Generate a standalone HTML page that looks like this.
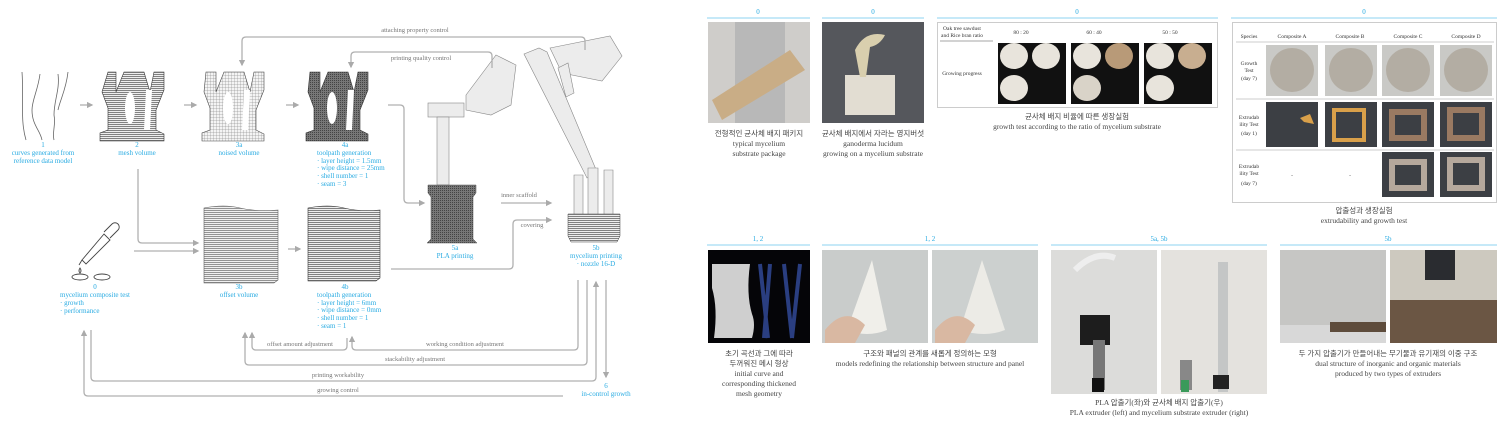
<!DOCTYPE html>
<html><head><meta charset="utf-8"><style>
html,body{margin:0;padding:0;background:#fff;width:1500px;height:426px;overflow:hidden}
svg{display:block}
.b{fill:#29abe2;font-family:"Liberation Serif","Noto Sans CJK KR",serif;font-size:7px}
.g{fill:#777;font-family:"Liberation Serif",serif;font-size:6.5px}
.c{fill:#444;font-family:"Liberation Serif","Noto Sans CJK KR",serif;font-size:7.5px}
.t{fill:#333;font-family:"Liberation Serif",serif;font-size:5.5px}
.ln{stroke:#b0b0b0;stroke-width:1.3;fill:none}
.bl{stroke:#b3e2f5;stroke-width:1.5}
</style></head><body>
<svg width="1500" height="426" viewBox="0 0 1500 426" xmlns="http://www.w3.org/2000/svg">
<defs>
<marker id="a" viewBox="0 0 10 10" refX="8" refY="5" markerWidth="5" markerHeight="5" orient="auto"><path d="M0,0L10,5L0,10z" fill="#aaa"/></marker>
<pattern id="hl" width="3" height="2" patternUnits="userSpaceOnUse"><rect width="3" height="2" fill="#eee"/><rect width="3" height="0.8" fill="#666"/></pattern>
<pattern id="gr" width="3" height="3" patternUnits="userSpaceOnUse"><rect width="3" height="3" fill="#f4f4f4"/><path d="M0,0H3M0,0V3" stroke="#777" stroke-width="0.5"/></pattern>
<pattern id="dk" width="2" height="2" patternUnits="userSpaceOnUse"><rect width="2" height="2" fill="#777"/><rect width="1" height="1" fill="#444"/></pattern>
</defs>

<!-- ===== left diagram ===== -->
<path d="M22,72 C24,100 20,120 26,140 M40,74 C38,90 32,100 32,110 C32,125 40,130 42,140 M58,74 C60,90 54,100 54,115 C56,125 52,132 54,140 M68,72 C66,90 60,100 58,110" stroke="#666" stroke-width="0.8" fill="none"/>
<path d="M108,72 h8 v20 l8,-20 h20 l6,20 l4,-20 h10 v18 l-8,20 v20 l8,4 v7 h-64 v-8 l8,-3 v-22 l-6,-16z" fill="url(#hl)" stroke="#333" stroke-width="0.6"/>
<ellipse cx="130" cy="108" rx="5" ry="16" fill="#fff"/><path d="M146,90 l6,0 l-2,40 l-6,0z" fill="#fff"/>
<path d="M206,72 h10 v20 l8,-20 h20 l6,20 l4,-20 h10 v18 l-8,20 v20 l8,4 v7 h-62 v-8 l8,-3 v-22 l-6,-16z" fill="url(#gr)" stroke="#444" stroke-width="0.6"/>
<ellipse cx="228" cy="108" rx="5" ry="16" fill="#fff"/><path d="M244,90 l6,0 l-2,40 l-6,0z" fill="#fff"/>
<path d="M310,72 h10 v20 l8,-20 h20 l6,20 l4,-20 h10 v18 l-8,20 v20 l8,4 v7 h-62 v-8 l8,-3 v-22 l-6,-16z" fill="url(#dk)" stroke="#333" stroke-width="0.6"/>
<ellipse cx="332" cy="108" rx="5" ry="16" fill="#fff"/><path d="M348,90 l6,0 l-2,40 l-6,0z" fill="#fff"/>
<!-- 3b -->
<path d="M204,208 q20,-4 36,0 t38,2 v70 l-4,3 h-70z" fill="url(#hl)" stroke="#444" stroke-width="0.6" opacity="0.85"/>
<!-- 4b -->
<path d="M308,208 q20,-4 36,0 t36,2 v68 l-4,3 h-68z" fill="url(#hl)" stroke="#333" stroke-width="0.6"/>
<!-- dropper -->
<g stroke="#444" stroke-width="0.9" fill="none"><path d="M82,260 l22,-26 l6,6 l-24,24z"/><path d="M104,232 l8,-8 a4,4 0 0 1 6,6 l-8,8"/><path d="M82,260 l-3,5"/><path d="M80,268 q-2,3 0,5 q2,-2 0,-5z"/><ellipse cx="80" cy="277" rx="8" ry="3"/><ellipse cx="102" cy="277" rx="8" ry="3"/></g>
<!-- robots -->
<g fill="#ececec" stroke="#888" stroke-width="0.6">
<path d="M466,95 l30,-40 l20,10 l-5,40 l-20,10 l-25,-5z"/><rect x="428" y="103" width="36" height="14"/><rect x="437" y="117" width="12" height="68"/>
<path d="M524,54 l15,-6 l8,4 l50,120 l-10,6z"/><path d="M550,48 l60,-12 l12,20 l-20,25 l-40,-8z"/><path d="M558,68 l10,-5 l6,30 l-8,4z"/>
<path d="M574,175 l9,0 l0,40 l-9,0z M588,168 l10,0 l0,47 l-10,0z M604,170 l9,0 l0,45 l-9,0z"/>
</g>
<path d="M428,185 h48 v8 l-3,4 v42 l4,4 h-50 l4,-4 v-42 l-3,-4z" fill="url(#dk)" stroke="#555" stroke-width="0.5"/>
<path d="M568,214 h52 v22 l-3,6 h-46 l-3,-6z" fill="url(#hl)" stroke="#444" stroke-width="0.5"/>

<g class="ln" marker-end="url(#a)">
<path d="M80,105h12"/><path d="M184,105h12"/><path d="M286,105h12"/>
<path d="M388,105h12q4,0 4,4v90q0,4 4,4h16"/>
<path d="M501,203h50"/>
<path d="M391,269h118q4,0 4,-4v-41q0,-4 4,-4h34"/>
<path d="M138,169v70q0,4 4,4h56"/><path d="M134,251h64"/><path d="M288,249h12"/>
<path d="M585,50v-9q0,-4 -4,-4h-335q-4,0 -4,4v24"/>
<path d="M492,68v-12q0,-4 -4,-4h-133q-4,0 -4,4v11"/>
<path d="M347,338v8q0,4 -4,4h-87q-4,0 -4,-4v-13"/>
<path d="M578,280v66q0,4 -4,4h-218q-4,0 -4,-4v-9"/>
<path d="M587,280v81q0,4 -4,4h-334q-4,0 -4,-4v-28"/>
<path d="M91,330v47q0,4 4,4h497q4,0 4,-4v-95"/>
<path d="M563,396h-475q-4,0 -4,-4v-61"/>
<path d="M606,280v97"/>
</g>
<g class="g" text-anchor="middle">
<text x="415" y="32">attaching property control</text>
<text x="421" y="60">printing quality control</text>
<text x="519" y="197">inner scaffold</text>
<text x="532" y="227">covering</text>
<text x="300" y="346">offset amount adjustment</text>
<text x="465" y="346">working condition adjustment</text>
<text x="415" y="361">stackability adjustment</text>
<text x="338" y="377">printing workability</text>
<text x="338" y="392">growing control</text>
</g>
<g class="b" text-anchor="middle">
<text x="43" y="147">1</text><text x="43" y="155">curves generated from</text><text x="43" y="163">reference data model</text>
<text x="137" y="147">2</text><text x="137" y="155">mesh volume</text>
<text x="239" y="147">3a</text><text x="239" y="155">noised volume</text>
<text x="345" y="147">4a</text>
<text x="455" y="250">5a</text><text x="455" y="258">PLA printing</text>
<text x="596" y="250">5b</text><text x="596" y="258">mycelium printing</text><text x="596" y="266">· nozzle 16-D</text>
<text x="95" y="289">0</text>
<text x="239" y="289">3b</text><text x="239" y="297">offset volume</text>
<text x="345" y="289">4b</text>
<text x="606" y="388">6</text><text x="606" y="396">in-control growth</text>
</g>
<g class="b">
<text x="317" y="155">toolpath generation</text><text x="317" y="163">· layer height = 1.5mm</text><text x="317" y="170">· wipe distance = 25mm</text><text x="317" y="178">· shell number = 1</text><text x="317" y="186">· seam = 3</text>
<text x="60" y="297">mycelium composite test</text><text x="60" y="305">· growth</text><text x="60" y="313">· performance</text>
<text x="317" y="297">toolpath generation</text><text x="317" y="305">· layer height = 6mm</text><text x="317" y="312">· wipe distance = 0mm</text><text x="317" y="320">· shell number = 1</text><text x="317" y="328">· seam = 1</text>
</g>

<!-- ===== right: top row ===== -->
<g class="bl"><path d="M707,18H810M822,18H924M937,18H1218M1231,18H1497M707,245H810M822,245H1038M1051,245H1267M1280,245H1497"/></g>
<g class="b" text-anchor="middle">
<text x="758" y="14">0</text><text x="873" y="14">0</text><text x="1077" y="14">0</text><text x="1364" y="14">0</text>
<text x="758" y="241">1, 2</text><text x="930" y="241">1, 2</text><text x="1159" y="241">5a, 5b</text><text x="1388" y="241">5b</text>
</g>
<rect x="708" y="22" width="102" height="101" fill="#cfcdca"/>
<rect x="735" y="22" width="50" height="101" fill="#b8b8b8"/>
<path d="M712,100 L790,50 L805,70 L722,120z" fill="#c9ad86"/>
<rect x="822" y="22" width="102" height="101" fill="#55575c"/>
<path d="M845,75 h50 v40 h-50z" fill="#e2ddd2"/><path d="M855,50 q10,-20 30,-15 q-5,10 -15,12 l-4,30 h-6z" fill="#d9cfae"/>
<rect x="937.5" y="22.5" width="280" height="85" fill="#fff" stroke="#ccc"/>
<line x1="940" y1="41" x2="993" y2="41" stroke="#888" stroke-width="0.8"/>
<g class="t" text-anchor="middle"><text x="962" y="30">Oak tree sawdust</text><text x="962" y="37">and Rice bran ratio</text>
<text x="1021" y="34">80 : 20</text><text x="1094" y="34">60 : 40</text><text x="1170" y="34">50 : 50</text><text x="962" y="75">Growing progress</text></g>
<g fill="#111"><rect x="998" y="43" width="68" height="61"/><rect x="1071" y="43" width="68" height="61"/><rect x="1144" y="43" width="68" height="61"/></g>
<g fill="#e8e4dc">
<ellipse cx="1014" cy="56" rx="14" ry="13"/><ellipse cx="1046" cy="56" rx="14" ry="13"/><ellipse cx="1014" cy="88" rx="14" ry="13"/>
<ellipse cx="1087" cy="56" rx="14" ry="13"/><ellipse cx="1119" cy="56" rx="14" ry="13" fill="#b89a78"/><ellipse cx="1087" cy="88" rx="14" ry="13" fill="#d9d3c8"/>
<ellipse cx="1160" cy="56" rx="14" ry="13"/><ellipse cx="1192" cy="56" rx="14" ry="13" fill="#c8ae90"/><ellipse cx="1160" cy="88" rx="14" ry="13"/>
</g>
<rect x="1232.5" y="22.5" width="264" height="180" fill="#fff" stroke="#ccc"/>
<g stroke="#999" stroke-width="0.6"><path d="M1236,42H1494M1236,99H1494M1236,150H1494"/></g>
<g class="t" text-anchor="middle">
<text x="1249" y="38">Species</text><text x="1292" y="38">Composite A</text><text x="1350" y="38">Composite B</text><text x="1408" y="38">Composite C</text><text x="1466" y="38">Composite D</text>
<text x="1249" y="65">Growth</text><text x="1249" y="72">Test</text><text x="1249" y="80">(day 7)</text>
<text x="1249" y="119">Extrudab</text><text x="1249" y="126">ility Test</text><text x="1249" y="135">(day 1)</text>
<text x="1249" y="168">Extrudab</text><text x="1249" y="175">ility Test</text><text x="1249" y="185">(day 7)</text>
<text x="1292" y="177">-</text><text x="1350" y="177">-</text></g>
<g fill="#c9c9c6"><rect x="1266" y="45" width="52" height="51"/><rect x="1325" y="45" width="52" height="51"/><rect x="1382" y="45" width="52" height="51"/><rect x="1440" y="45" width="52" height="51"/></g>
<g fill="#b3ada3"><circle cx="1292" cy="70" r="22"/><circle cx="1351" cy="70" r="22"/><circle cx="1408" cy="70" r="22"/><circle cx="1466" cy="70" r="22"/></g>
<g fill="#3c3f44"><rect x="1266" y="102" width="52" height="45"/><rect x="1325" y="102" width="52" height="45"/><rect x="1382" y="102" width="52" height="45"/><rect x="1440" y="102" width="52" height="45"/><rect x="1382" y="152" width="52" height="45"/><rect x="1440" y="152" width="52" height="45"/></g>
<path d="M1300,118 l10,-4 l4,10 l-10,-2z" fill="#d9a04a"/>
<rect x="1334" y="110" width="30" height="30" fill="none" stroke="#d9a04a" stroke-width="4"/>
<g fill="none" stroke-width="6"><rect x="1392" y="112" width="32" height="26" stroke="#9a7a62"/><rect x="1450" y="110" width="32" height="28" stroke="#9a7a62"/><rect x="1392" y="162" width="32" height="26" stroke="#b5a89c"/><rect x="1450" y="160" width="32" height="28" stroke="#b5a89c"/></g>
<g class="c" text-anchor="middle">
<text x="759" y="136">전형적인 균사체 배지 패키지</text><text x="759" y="146">typical mycelium</text><text x="759" y="156">substrate package</text>
<text x="873" y="136">균사체 배지에서 자라는 영지버섯</text><text x="873" y="146">ganoderma lucidum</text><text x="873" y="156">growing on a mycelium substrate</text>
<text x="1077" y="119">균사체 배지 비율에 따른 생장실험</text><text x="1077" y="129">growth test according to the ratio of mycelium substrate</text>
<text x="1364" y="213">압출성과 생장실험</text><text x="1364" y="223">extrudability and growth test</text>
</g>
<rect x="708" y="250" width="102" height="93" fill="#050508"/>
<path d="M712,264 h38 q-4,30 2,50 q4,10 0,24 h-38 q4,-30 -2,-50z" fill="#cfcfcf"/>
<path d="M760,264 l8,74 M770,264 l-6,74 M784,264 l8,74 M800,264 l-8,74" stroke="#2a3e80" stroke-width="4" fill="none"/>
<rect x="822" y="250" width="106" height="93" fill="#c9cccb"/>
<path d="M872,260 l-25,70 q20,8 40,0 z" fill="#f0efea"/><path d="M825,330 q20,-25 40,-5 l-10,18 h-30z" fill="#d9b8a2"/>
<rect x="932" y="250" width="106" height="93" fill="#ccd0cf"/>
<path d="M982,260 l-22,70 q25,8 45,0 z" fill="#ecebe6"/><path d="M935,330 q20,-25 40,-5 l-10,18 h-30z" fill="#d9b8a2"/>
<rect x="1051" y="250" width="106" height="144" fill="#dcdcda"/>
<path d="M1075,270 q20,-20 40,-12" stroke="#eee" stroke-width="6" fill="none"/><rect x="1080" y="315" width="30" height="30" fill="#1d1d1d"/><rect x="1093" y="340" width="12" height="50" fill="#777"/><rect x="1092" y="378" width="12" height="14" fill="#111"/>
<rect x="1161" y="250" width="106" height="144" fill="#e4e2de"/>
<rect x="1218" y="262" width="10" height="130" fill="#c4c6c6"/><rect x="1213" y="375" width="16" height="14" fill="#222"/><rect x="1180" y="360" width="12" height="30" fill="#888"/><rect x="1181" y="380" width="8" height="12" fill="#3a9a5a"/>
<rect x="1280" y="250" width="106" height="93" fill="#c6c6c4"/><rect x="1280" y="325" width="106" height="18" fill="#d8d8d8"/><rect x="1330" y="322" width="56" height="10" fill="#5e4c3c"/>
<rect x="1390" y="250" width="107" height="93" fill="#cdc9bf"/><rect x="1390" y="300" width="107" height="43" fill="#6b5644"/><rect x="1425" y="250" width="30" height="30" fill="#2a2c30"/>
<g class="c" text-anchor="middle">
<text x="759" y="356">초기 곡선과 그에 따라</text><text x="759" y="366">두꺼워진 메시 형상</text><text x="759" y="376">initial curve and</text><text x="759" y="386">corresponding thickened</text><text x="759" y="396">mesh geometry</text>
<text x="930" y="356">구조와 패널의 관계를 새롭게 정의하는 모형</text><text x="930" y="366">models redefining the relationship between structure and panel</text>
<text x="1159" y="405">PLA 압출기(좌)와 균사체 배지 압출기(우)</text><text x="1159" y="415">PLA extruder (left) and mycelium substrate extruder (right)</text>
<text x="1388" y="356">두 가지 압출기가 만들어내는 무기물과 유기재의 이중 구조</text><text x="1388" y="366">dual structure of inorganic and organic materials</text><text x="1388" y="376">produced by two types of extruders</text>
</g>
</svg>
</body></html>
